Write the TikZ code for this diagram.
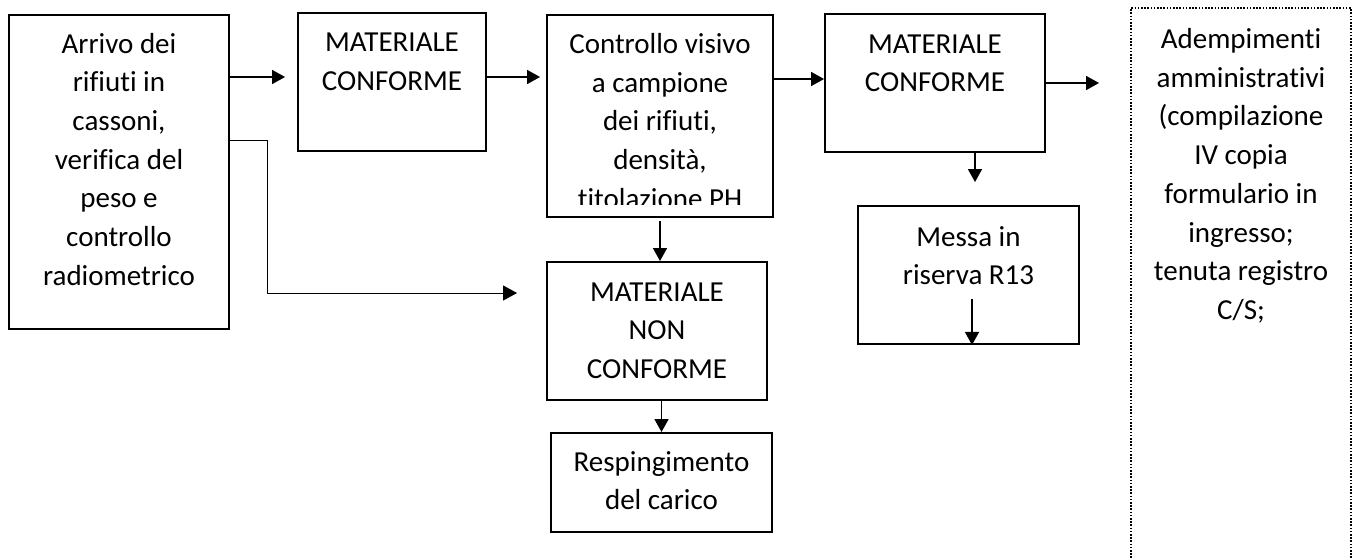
\documentclass[tikz,border=0pt]{standalone}
\usepackage{fontspec}
\setmainfont{Carlito}[Ligatures=NoCommon]
\usetikzlibrary{arrows.meta}
\begin{document}
\begin{tikzpicture}[x=1pt,y=-1pt,
  box/.style={draw, line width=1.9pt, inner sep=0pt},
  dotbox/.style={draw, line width=1.9pt, dash pattern=on 1.6pt off 1.6pt, inner sep=0pt},
  txt/.style={align=center, inner sep=0pt, font=\fontsize{29}{38.7}\selectfont, anchor=base},
  arr/.style={line width=1.5pt, -{Triangle[length=13pt,width=14pt]}},
  thinarr/.style={line width=1pt, -{Triangle[length=14pt,width=15pt]}}]
\useasboundingbox (0,0) rectangle (1357,559);
% boxes
\node[box, minimum width=220pt, minimum height=314pt] (A) at (119,172) {};
\node[box, minimum width=188pt, minimum height=138pt] (B) at (392,82) {};
\node[box, minimum width=226pt, minimum height=202pt] (C) at (660,116) {};
\node[box, minimum width=220pt, minimum height=138pt] (D) at (935,83) {};
\node[box, minimum width=221pt, minimum height=138pt] (E) at (968.5,275) {};
\node[box, minimum width=220pt, minimum height=138pt] (F) at (657,331) {};
\node[box, minimum width=221pt, minimum height=99pt] (G) at (661.5,482.5) {};
\node[dotbox, minimum width=220pt, minimum height=570pt] (H) at (1241,293) {};
% texts (anchor = baseline of last line)
\node[txt] (tA) at (119,285.2) {Arrivo dei\\rifiuti in\\cassoni,\\verifica del\\peso e\\controllo\\radiometrico};
\node[txt] (tB) at (392,90.7) {MATERIALE\\CONFORME};
\begin{scope}
\clip (546,14) rectangle (775,204);
\node[txt] (tC) at (660,208.3) {Controllo visivo\\a campione\\dei rifiuti,\\densità,\\titolazione PH};
\end{scope}
\node[txt] (tD) at (935,91.7) {MATERIALE\\CONFORME};
\node[txt] (tE) at (968.5,284.7) {Messa in\\riserva R13};
\node[txt] (tF) at (657,378.4) {MATERIALE\\NON\\CONFORME};
\node[txt] (tG) at (661.5,509.7) {Respingimento\\del carico};
\node[txt] (tH) at (1241,319.4) {Adempimenti\\amministrativi\\(compilazione\\IV copia\\formulario in\\ingresso;\\tenuta registro\\C/S;};
% connectors
\coordinate (b1) at ([yshift=5pt]B.west);
\draw[arr, shorten >=12pt] (A.east |- b1) -- (b1);
\coordinate (c1) at ([yshift=5pt]B.east);
\draw[arr, shorten >=6pt] (c1) -- (C.west |- c1);
\coordinate (d1) at ([yshift=4pt]D.west);
\draw[arr] (C.east |- d1) -- (d1);
\coordinate (d2) at ([xshift=40pt]D.south);
\draw[arr, shorten >=23pt] (d2) -- (d2 |- E.north);
\draw[arr, shorten >=31pt] (D.east) -- (D.east -| H.west);
\draw[arr, shorten <=3pt] (C.south) -- (C.south |- F.north);
\draw[arr] (G.north |- F.south) -- (G.north);
\coordinate (e1) at ([yshift=31pt]A.east);
\coordinate (f1) at ([yshift=38pt]F.west);
\draw[thinarr, shorten >=29pt] (e1) -- ++(38,0) |- (f1);
\coordinate (e2) at ([xshift=3.5pt,yshift=46pt]E.south);
\draw[arr] (e2) -- (e2 |- E.south);
\end{tikzpicture}
\end{document}
